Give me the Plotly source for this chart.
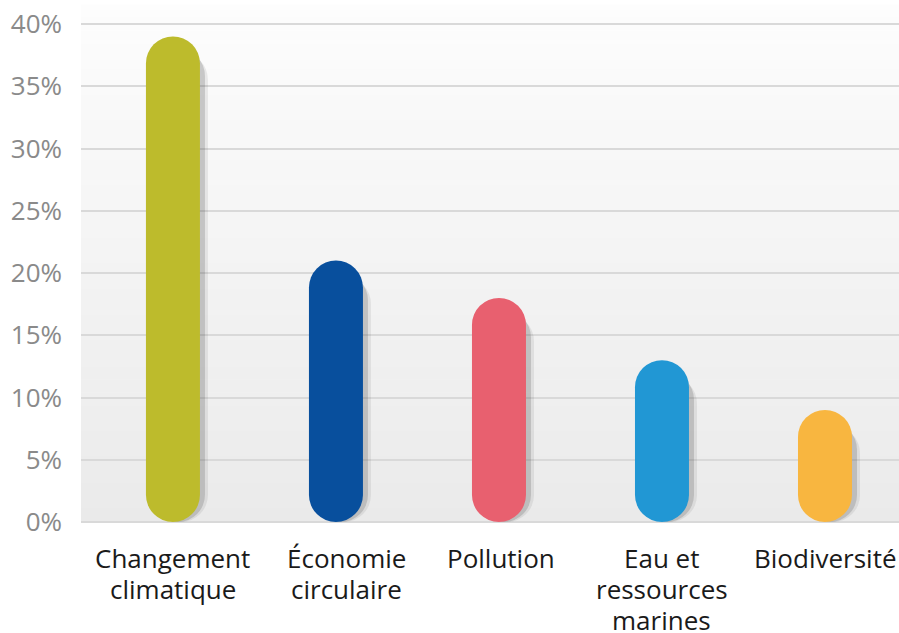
import plotly.graph_objects as go

categories = ["Changement<br>climatique", "Économie<br>circulaire", "Pollution",
              "Eau et<br>ressources<br>marines", "Biodiversité"]
values = [39, 21, 18, 13, 9]
colors = ["#bdbb2c", "#084f9d", "#e8606f", "#2197d4", "#f8b640"]
y_ticks = [0, 5, 10, 15, 20, 25, 30, 35, 40]
y_tick_labels = ["0%", "5%", "10%", "15%", "20%", "25%", "30%", "35%", "40%"]
label_xshift_px = [0, 11, 2, 0, 1]  # styling: horizontal nudges of the category labels

W, H = 899, 633
ML, MR, MT, MB = 81, 0, 5, 111
pos = list(range(len(categories)))
xr = [-0.564, 4.454]
px_per_unit = (W - ML - MR) / (xr[1] - xr[0])
bar_px = 54
bar_w = bar_px / px_per_unit
shadow_dx = 5 / px_per_unit
zeros = [0] * len(values)
y_top = 41.526

fig = go.Figure()

# background gradient stripes
n = 40
top_c = (253, 253, 253)
bot_c = (234, 234, 234)
for k in range(n):
    t = (k + 0.5) / n
    c = tuple(round(top_c[j] + (bot_c[j] - top_c[j]) * t) for j in range(3))
    fig.add_shape(type="rect", xref="paper", yref="paper",
                  x0=0, x1=1, y0=1 - (k + 1) / n, y1=1 - k / n + 0.001,
                  fillcolor="rgb(%d,%d,%d)" % c, line_width=0, layer="below")

# shadows
fig.add_trace(go.Bar(x=[p + shadow_dx * 1.6 for p in pos], y=[v - 1.3 for v in values], base=zeros,
                     width=bar_w, marker=dict(color="rgba(80,80,80,0.10)", cornerradius=bar_px / 2, line_width=0),
                     hoverinfo="skip", showlegend=False))
fig.add_trace(go.Bar(x=[p + shadow_dx for p in pos], y=[v - 1.0 for v in values], base=zeros,
                     width=bar_w, marker=dict(color="rgba(80,80,80,0.22)", cornerradius=bar_px / 2, line_width=0),
                     hoverinfo="skip", showlegend=False))

# pills
fig.add_trace(go.Bar(x=pos, y=values, base=zeros, width=bar_w,
                     marker=dict(color=colors, cornerradius=bar_px / 2, line_width=0),
                     showlegend=False))

# category labels (tight line spacing as in the reference)
line_px = 31
for p, cat, dx in zip(pos, categories, label_xshift_px):
    for k, line in enumerate(cat.split("<br>")):
        fig.add_annotation(x=p, y=0, xref="x", yref="y", text=line, showarrow=False,
                           yanchor="top", xanchor="center", yshift=-(17 + k * line_px),
                           xshift=dx, borderpad=0, font=dict(size=26, color="#1a1a1a"))

fig.update_layout(
    width=W, height=H,
    margin=dict(l=ML, r=MR, t=MT, b=MB, autoexpand=False),
    barmode="overlay",
    paper_bgcolor="white",
    plot_bgcolor="rgba(0,0,0,0)",
    font=dict(family="Open Sans", size=26),
    xaxis=dict(range=xr, tickmode="array", tickvals=pos, ticktext=[""] * len(pos),
               showgrid=False, zeroline=False, showline=False, ticks="", automargin=False),
    yaxis=dict(range=[0, y_top], tickmode="array", tickvals=y_ticks, ticktext=y_tick_labels,
               showgrid=True, gridcolor="#d9d9d9", gridwidth=2, zeroline=True,
               zerolinecolor="#d9d9d9", zerolinewidth=2, showline=False, ticks="",
               tickfont=dict(size=26, color="#8a8a8a"), ticklabelstandoff=18,
               ticklabeloverflow="allow", automargin=False),
)

fig.write_html("out.html", config={"displayModeBar": False},
               post_script="document.body.style.margin='0';document.body.style.overflow='hidden';")
